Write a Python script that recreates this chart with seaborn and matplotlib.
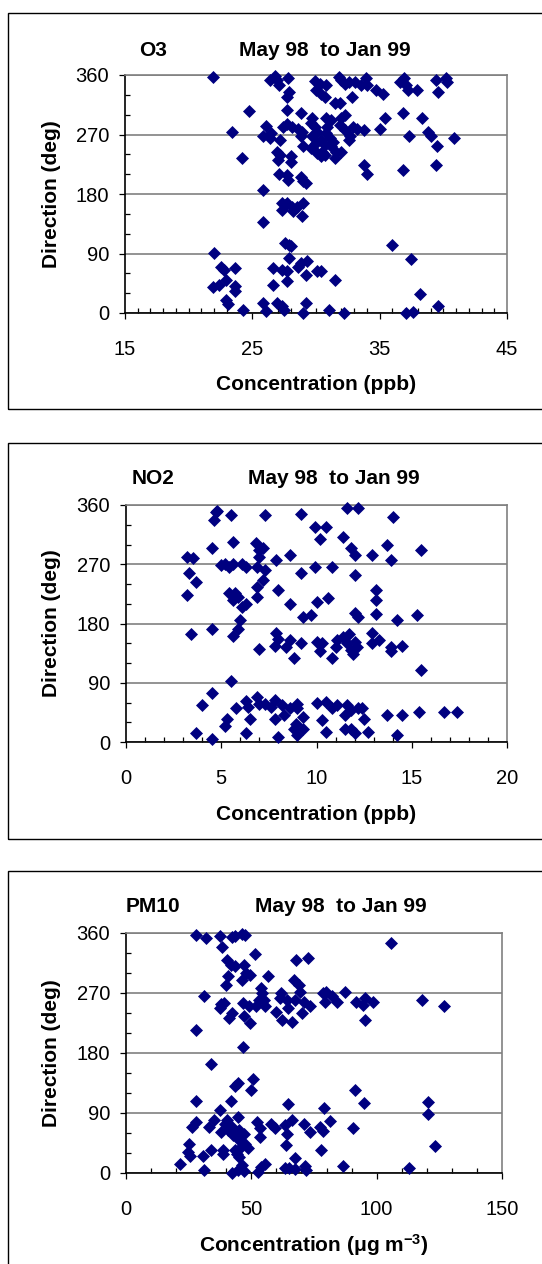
import pandas as pd
import matplotlib
matplotlib.use('Agg')
import matplotlib.pyplot as plt
from matplotlib.patches import Rectangle
from matplotlib.ticker import MultipleLocator
import seaborn as sns

# O3 concentration (ppb) and wind direction (deg)
o3_conc = [21.9, 22.0, 21.9, 22.4, 22.5, 22.8, 22.9, 23.6, 23.6, 23.6, 22.9, 23.1, 24.3, 23.4,
           24.2, 24.7, 25.8, 25.8, 25.8, 26.1, 26.6, 26.6, 26.9, 27.3, 27.5, 27.3, 27.7, 27.7,
           27.9, 27.6, 27.9, 28.0, 28.8, 28.6, 29.3, 29.2, 29.0, 29.2, 30.1, 30.4, 31.5, 31.0,
           32.2, 36.0, 37.5, 38.2, 37.1, 37.6, 39.6, 27.3, 27.6, 28.1, 28.2, 28.5, 29.0, 28.9,
           27.3, 27.7, 27.1, 27.7, 27.8, 28.8, 29.0, 29.2, 26.9, 27.2, 27.0, 28.0, 28.0, 25.8,
           26.1, 26.5, 26.4, 27.2, 27.4, 27.7, 28.1, 28.6, 28.8, 29.0, 28.8, 28.9, 27.7, 27.7,
           27.9, 26.4, 26.8, 26.9, 27.1, 27.8, 29.9, 30.3, 30.0, 30.4, 30.7, 30.8, 31.5, 31.9,
           31.8, 32.0, 32.3, 32.6, 33.1, 33.5, 33.9, 34.0, 32.8, 30.8, 31.2, 32.0, 32.3, 29.7,
           29.6, 29.9, 30.1, 29.7, 30.4, 30.0, 30.7, 29.6, 30.1, 30.5, 31.3, 31.6, 32.0, 31.5,
           31.9, 32.3, 32.6, 32.7, 32.9, 33.2, 33.8, 33.8, 34.0, 34.7, 35.3, 35.0, 35.4, 36.6,
           36.9, 37.1, 37.2, 37.9, 36.8, 37.3, 36.8, 38.3, 38.8, 39.0, 39.5, 39.4, 39.4, 40.2,
           40.3, 39.6, 40.8, 30.8, 31.1, 31.2, 30.7, 30.4, 30.9]
o3_dir = [357, 91, 40, 43, 70, 65, 50, 68, 41, 33, 20, 13, 5, 274,
          234, 305, 186, 137, 15, 3, 43, 68, 15, 10, 5, 65, 63, 48,
          83, 106, 103, 101, 76, 70, 78, 58, 0, 15, 63, 63, 50, 5,
          0, 103, 81, 28, 0, 2, 10, 166, 164, 161, 155, 161, 166, 146,
          156, 166, 211, 209, 201, 206, 199, 196, 244, 239, 232, 237, 229, 267,
          283, 272, 264, 262, 282, 286, 282, 279, 267, 252, 302, 274, 307, 327,
          335, 352, 358, 352, 345, 355, 351, 347, 337, 332, 327, 345, 317, 317,
          357, 352, 347, 350, 350, 345, 355, 345, 327, 295, 292, 295, 300, 295,
          287, 282, 274, 267, 262, 257, 254, 249, 242, 244, 259, 244, 244, 234,
          284, 277, 262, 267, 282, 279, 277, 224, 211, 337, 332, 279, 295, 350,
          355, 345, 337, 337, 303, 267, 217, 295, 274, 267, 252, 224, 352, 355,
          350, 335, 265, 272, 264, 252, 239, 237, 282]

# NO2 concentration (ppb) and wind direction (deg)
no2_conc = [4.7, 4.8, 4.6, 5.5, 7.3, 9.2, 9.9, 10.5, 10.2, 11.6, 12.2, 14.0, 11.4, 11.8,
            12.0, 13.7, 15.5, 12.9, 13.9, 12.0, 10.8, 9.9, 9.2, 10.0, 10.6, 9.3, 9.7, 8.6,
            7.9, 8.0, 8.6, 12.0, 12.2, 13.1, 13.1, 13.1, 14.2, 15.3, 3.2, 3.5, 3.3, 3.7,
            3.2, 4.5, 5.0, 5.2, 5.4, 5.6, 5.6, 6.1, 6.3, 6.9, 6.8, 7.0, 7.2, 7.0,
            7.3, 7.2, 6.9, 6.9, 5.4, 5.7, 5.6, 5.9, 6.1, 6.3, 6.0, 5.9, 5.6, 4.5,
            3.4, 7.0, 7.9, 8.0, 7.8, 8.4, 8.6, 8.8, 9.2, 10.0, 10.2, 10.3, 10.8, 11.0,
            11.1, 11.4, 11.6, 11.8, 11.9, 12.0, 11.7, 12.1, 12.9, 12.9, 13.3, 13.9, 13.9, 14.5,
            15.5, 5.5, 4.5, 4.0, 5.8, 5.3, 5.2, 3.7, 4.5, 6.3, 6.4, 6.5, 6.3, 6.9,
            7.0, 7.3, 7.6, 7.8, 7.8, 8.0, 8.2, 8.3, 8.6, 9.0, 9.0, 8.9, 8.8, 9.0,
            9.3, 9.3, 10.0, 10.3, 10.5, 10.5, 10.8, 11.1, 11.6, 11.5, 11.8, 12.2, 12.4, 12.5,
            11.5, 11.8, 12.0, 12.7, 13.7, 14.2, 14.5, 15.4, 16.7, 17.4]
no2_dir = [350, 351, 337, 345, 345, 347, 327, 327, 309, 355, 355, 342, 312, 294,
           284, 299, 292, 284, 276, 254, 266, 266, 256, 213, 218, 190, 193, 284,
           276, 231, 210, 196, 190, 195, 231, 216, 186, 193, 281, 279, 256, 243,
           223, 294, 269, 271, 266, 271, 304, 271, 266, 266, 302, 292, 294, 281,
           261, 246, 236, 221, 226, 226, 216, 221, 205, 210, 185, 172, 161, 171,
           164, 141, 165, 157, 146, 145, 155, 128, 151, 152, 138, 150, 128, 145,
           155, 160, 150, 139, 134, 152, 164, 145, 165, 151, 155, 145, 138, 146,
           110, 93, 75, 56, 52, 35, 24, 13, 5, 63, 53, 35, 13, 68,
           58, 58, 53, 64, 35, 8, 56, 41, 51, 58, 51, 28, 20, 10,
           20, 38, 59, 34, 61, 15, 52, 56, 56, 41, 48, 51, 51, 35,
           19, 19, 14, 15, 41, 10, 41, 46, 46, 46]

# PM10 concentration (ug m-3) and wind direction (deg)
pm10_conc = [27.9, 32.0, 37.6, 38.1, 42.3, 43.4, 46.2, 47.6, 51.4, 40.4, 41.8, 43.4, 46.9, 47.8,
             49.6, 46.2, 40.7, 40.0, 31.3, 37.9, 39.0, 37.5, 40.9, 42.3, 46.9, 49.3, 46.7, 49.0,
             51.7, 53.1, 53.7, 54.4, 54.9, 55.5, 56.5, 60.0, 61.6, 62.0, 62.4, 64.1, 64.8, 66.2,
             66.9, 67.9, 68.9, 69.6, 67.5, 70.3, 71.0, 72.8, 73.5, 78.6, 79.9, 79.3, 82.0, 84.1,
             87.3, 91.7, 94.7, 95.4, 95.5, 98.6, 105.9, 117.9, 126.8, 28.0, 46.6, 34.1, 28.0, 28.0,
             26.2, 25.2, 24.8, 25.5, 21.6, 30.7, 31.3, 33.1, 35.1, 34.1, 37.5, 37.9, 38.6, 38.6,
             39.3, 40.4, 40.7, 41.8, 42.3, 42.7, 43.4, 43.4, 44.8, 44.8, 45.2, 45.2, 45.7, 46.9,
             47.6, 48.7, 42.3, 44.8, 46.2, 46.9, 45.2, 44.1, 50.5, 50.0, 52.4, 53.4, 53.4, 52.8,
             53.7, 55.5, 57.9, 59.3, 63.4, 64.1, 63.8, 66.2, 64.5, 63.4, 65.1, 67.6, 67.3, 71.0,
             73.4, 71.3, 71.7, 77.2, 78.6, 81.3, 79.0, 77.9, 86.6, 90.6, 91.3, 95.1, 112.8, 120.6,
             120.6, 123.4]
pm10_dir = [357, 352, 355, 339, 354, 356, 359, 357, 329, 320, 312, 310, 312, 300,
            297, 290, 296, 282, 265, 254, 255, 247, 232, 240, 235, 225, 255, 250,
            250, 260, 277, 270, 260, 250, 295, 242, 262, 270, 230, 260, 247, 226,
            290, 320, 282, 272, 260, 240, 257, 322, 250, 270, 272, 257, 265, 257,
            272, 257, 252, 262, 230, 257, 345, 260, 251, 215, 189, 163, 108, 77,
            69, 44, 32, 26, 13, 25, 5, 69, 80, 35, 94, 62, 34, 29,
            74, 79, 65, 108, 69, 57, 34, 130, 135, 84, 64, 49, 39, 59,
            44, 38, 0, 4, 12, 3, 24, 29, 141, 124, 77, 67, 54, 2,
            9, 14, 74, 67, 72, 58, 42, 79, 103, 7, 7, 23, 6, 73,
            61, 11, 4, 69, 63, 78, 98, 35, 11, 68, 125, 105, 8, 106,
            88, 41]

panel_names = ['O3', 'NO2', 'PM10']
period = 'May 98  to Jan 99'
x_labels = ['Concentration (ppb)', 'Concentration (ppb)', r'Concentration ($\mu$g m$^{-3}$)']
x_ticks = [[15, 25, 35, 45], [0, 5, 10, 15, 20], [0, 50, 100, 150]]
x_minor = [1, 1, 10]
y_ticks = [0, 90, 180, 270, 360]

sns.set_theme(style='white')
plt.rcParams['font.family'] = ['Liberation Sans', 'DejaVu Sans']
plt.rcParams['mathtext.default'] = 'regular'
plt.rcParams['axes.unicode_minus'] = False

W, H = 542, 1264
fig = plt.figure(figsize=(W / 100, H / 100), dpi=100)

# layout in pixels: axes (left, top, right, bottom), frame (top, bottom), title y, period x
layout = [
    dict(ax=(125, 75, 507, 313), frame=(13, 409), ty=50, px=325),
    dict(ax=(126, 505, 507, 742), frame=(443, 839), ty=478, px=334),
    dict(ax=(126, 933, 502, 1173), frame=(871, 1275), ty=907, px=341),
]
data = [(o3_conc, o3_dir), (no2_conc, no2_dir), (pm10_conc, pm10_dir)]
navy = '#000080'
grey = '#808080'

for i, (conc, direc) in enumerate(data):
    lay = layout[i]
    l, t, r, b = lay['ax']
    ax = fig.add_axes([l / W, 1 - b / H, (r - l) / W, (b - t) / H])
    df = pd.DataFrame({'conc': conc, 'dir': direc})
    sns.scatterplot(data=df, x='conc', y='dir', marker='D', color=navy, s=44,
                    linewidth=0, ax=ax, clip_on=False, zorder=3)
    ax.set_xlim(x_ticks[i][0], x_ticks[i][-1])
    ax.set_ylim(0, 360)
    ax.set_yticks(y_ticks)
    ax.set_xticks(x_ticks[i])
    ax.yaxis.set_minor_locator(MultipleLocator(30))
    ax.xaxis.set_minor_locator(MultipleLocator(x_minor[i]))
    ax.set_axisbelow(True)
    ax.yaxis.grid(True, which='major', color=grey, linewidth=1.2)
    ax.xaxis.grid(False)

    for side in ['top', 'right']:
        ax.spines[side].set_color(grey)
        ax.spines[side].set_linewidth(1.2)
    for side in ['left', 'bottom']:
        ax.spines[side].set_color('black')
        ax.spines[side].set_linewidth(1.2)

    ax.tick_params(which='both', bottom=True, left=True, colors='black', width=0.9)
    ax.tick_params(which='major', direction='out', length=4.5, labelsize=14.5, labelcolor='black')
    ax.tick_params(which='minor', direction='in', length=3.5)
    ax.tick_params(axis='x', which='major', pad=15)
    ax.tick_params(axis='y', which='major', pad=7)

    ax.set_xlabel(x_labels[i], fontsize=15, fontweight='bold', color='black')
    ax.set_ylabel('Direction (deg)', fontsize=15, fontweight='bold', color='black')
    ax.xaxis.set_label_coords(0.5, -72 / (b - t))
    ax.xaxis.label.set_va('center')
    ax.yaxis.set_label_coords((52 - l) / (r - l), 0.5)
    ax.yaxis.label.set_va('center')

    fig.text(153 / W, 1 - lay['ty'] / H, panel_names[i], ha='center', va='center',
             fontsize=15, fontweight='bold', color='black')
    fig.text(lay['px'] / W, 1 - lay['ty'] / H, period, ha='center', va='center',
             fontsize=15, fontweight='bold', color='black')

    ft, fb = lay['frame']
    fig.add_artist(Rectangle((8 / W, 1 - fb / H), 1.0, (fb - ft) / H,
                             transform=fig.transFigure, fill=False,
                             edgecolor='black', linewidth=1.0))

fig.savefig('out.png', dpi=100)
